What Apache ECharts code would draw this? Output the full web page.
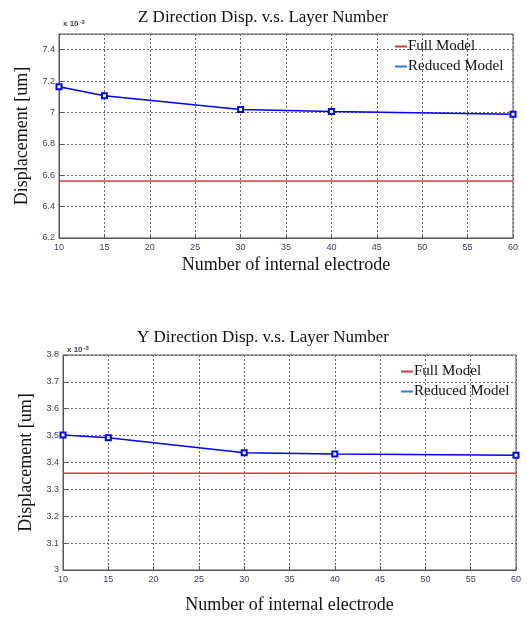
<!DOCTYPE html>
<html>
<head>
	<meta charset="utf-8">
	<title>Disp vs Layer</title>
	<script src="https://cdn.jsdelivr.net/npm/echarts@6/dist/echarts.min.js"></script>
	<style>body{margin:0;background:#fff}</style>
</head>
<body>
	<div id="main" style="width:526px;height:618px"></div>
	<script type="text/javascript">
// data (displacement in units of 1e-3 um)
var layers = [10, 15, 30, 40, 60];
var zFull = [6.563, 6.563, 6.563, 6.563, 6.563];
var zReduced = [7.164, 7.106, 7.019, 7.006, 6.989];
var yFull = [3.360, 3.360, 3.360, 3.360, 3.360];
var yReduced = [3.502, 3.492, 3.436, 3.432, 3.427];
var xTicks = [10, 60, 5];
var zTicks = [6.2, 7.5, 0.2];
var yTicks = [3.0, 3.8, 0.1];

function pairs(xs, ys) {
    return xs.map(function (x, i) { return [x, ys[i]]; });
}

var serif = 'Liberation Serif';
var sans = 'Liberation Sans';
var red = '#d23c3c';
var blue = '#0000ff';

function xAxisOpt(gi, gap) {
    return {
        type: 'value', gridIndex: gi,
        min: xTicks[0], max: xTicks[1], interval: xTicks[2],
        name: 'Number of internal electrode', nameLocation: 'middle', nameGap: gap,
        nameTextStyle: { fontFamily: serif, fontSize: 18, color: '#111' },
        axisLine: { lineStyle: { color: '#555' } },
        axisTick: { inside: true, length: 4, lineStyle: { color: '#555' } },
        axisLabel: { fontFamily: sans, fontSize: 9, color: '#3c3c5c', margin: 5 },
        splitLine: { lineStyle: { type: [2, 2], color: '#666' } }
    };
}
function yAxisOpt(gi, t, showMax) {
    return {
        type: 'value', gridIndex: gi,
        min: t[0], max: t[1], interval: t[2],
        name: 'Displacement [um]', nameLocation: 'middle', nameGap: 28,
        nameTextStyle: { fontFamily: serif, fontSize: 18, color: '#111' },
        axisLine: { show: true, lineStyle: { color: '#555' } },
        axisTick: { show: true, inside: true, length: 4, lineStyle: { color: '#555' } },
        axisLabel: { fontFamily: sans, fontSize: 9, color: '#3c3c5c', margin: 4, showMaxLabel: showMax },
        splitLine: { lineStyle: { type: [2, 2], color: '#666' } }
    };
}
function legendOpt(left, top) {
    return {
        orient: 'vertical', left: left, top: top,
        icon: 'rect', itemWidth: 12, itemHeight: 2, itemGap: 5,
        textStyle: { fontFamily: serif, fontSize: 15, color: '#111', padding: [0, 0, 0, -4] },
        data: [
            { name: 'Full Model', itemStyle: { color: red } },
            { name: 'Reduced Model', itemStyle: { color: '#2b7bd6' } }
        ]
    };
}
function multTitle(left, top) {
    return {
        text: '{a|x 10}{b|-3}', left: left, top: top,
        textStyle: { rich: {
            a: { fontFamily: sans, fontSize: 8, color: '#3c3c5c' },
            b: { fontFamily: sans, fontSize: 6, color: '#3c3c5c', verticalAlign: 'top', padding: [0, 0, 4, 1] }
        } }
    };
}
function fullSeries(gi, vals) {
    return {
        name: 'Full Model', type: 'line', xAxisIndex: gi, yAxisIndex: gi,
        data: pairs(layers, vals), showSymbol: false, symbol: 'none',
        lineStyle: { color: red, width: 1.5 }, itemStyle: { color: red }
    };
}
function reducedSeries(gi, vals) {
    return {
        name: 'Reduced Model', type: 'line', xAxisIndex: gi, yAxisIndex: gi,
        data: pairs(layers, vals), symbol: 'emptyRect', symbolSize: 5,
        lineStyle: { color: blue, width: 1.5 },
        itemStyle: { color: blue, borderWidth: 1.2 }
    };
}

var myChart = echarts.init(document.getElementById('main'));
var option = {
    backgroundColor: '#fff',
    animation: false,
    title: [
        { text: 'Z Direction Disp. v.s. Layer Number', left: 'center', top: 4,
          textStyle: { fontFamily: serif, fontSize: 17, fontWeight: 'normal', color: '#111' } },
        { text: 'Y Direction Disp. v.s. Layer Number', left: 'center', top: 324,
          textStyle: { fontFamily: serif, fontSize: 17, fontWeight: 'normal', color: '#111' } },
        multTitle(58, 14),
        multTitle(62, 340)
    ],
    legend: [legendOpt(390, 34), legendOpt(396, 359)],
    grid: [
        { left: 59, right: 13, top: 34, bottom: 380, show: true, borderColor: '#555', borderWidth: 1 },
        { left: 63, right: 10, top: 355, bottom: 48, show: true, borderColor: '#555', borderWidth: 1 }
    ],
    xAxis: [xAxisOpt(0, 18), xAxisOpt(1, 26)],
    yAxis: [yAxisOpt(0, zTicks, false), yAxisOpt(1, yTicks, true)],
    series: [
        fullSeries(0, zFull), reducedSeries(0, zReduced),
        fullSeries(1, yFull), reducedSeries(1, yReduced)
    ]
};
myChart.setOption(option);
	</script>
</body>
</html>
